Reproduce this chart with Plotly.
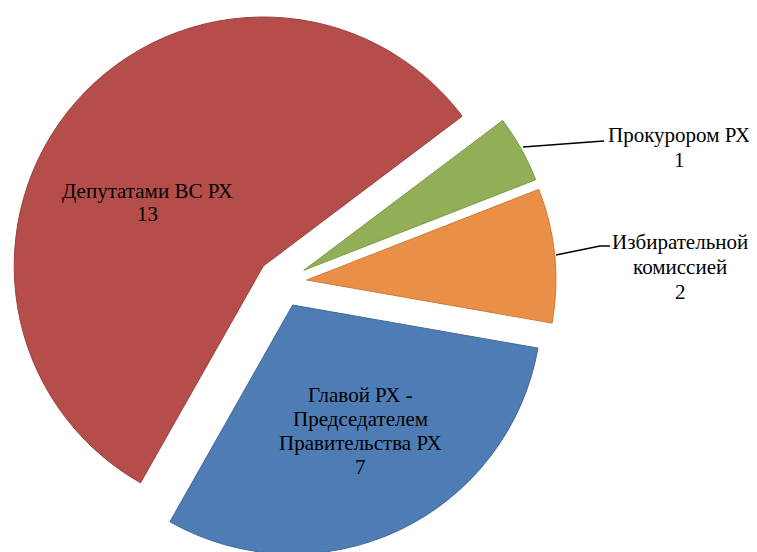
import plotly.graph_objects as go

# Data
labels = ["Прокурором РХ", "Избирательной комиссией",
          "Главой РХ - Председателем Правительства РХ", "Депутатами ВС РХ"]
values = [1, 2, 7, 13]
label_lines = [
    ["Прокурором РХ", "1"],
    ["Избирательной", "комиссией", "2"],
    ["Главой РХ -", "Председателем", "Правительства РХ", "7"],
    ["Депутатами ВС РХ", "13"],
]
colors = ["#91AF56", "#EA8F47", "#4E7CB5", "#B54D4A"]
edge_colors = ["#7E9A48", "#CF7B39", "#44699B", "#9C403D"]

W, H = 757, 552
OFF = 8  # page body margin offset

def px(x):
    return (x - OFF) / W

def py(y):
    return 1 - (y - OFF) / H

fig = go.Figure()
fig.add_trace(go.Pie(
    labels=labels,
    values=values,
    sort=False,
    direction="clockwise",
    rotation=53,
    pull=[0.1] * 4,
    marker=dict(colors=colors, line=dict(color=edge_colors, width=1)),
    textinfo="none",
    showlegend=False,
    domain=dict(x=[0, 548 / W], y=[3 / H, 1]),
))

SERIF = "Liberation Serif"

# label anchor: (center x, first line center y, line spacing)
label_pos = [
    (679, 135, 25),
    (680, 242, 25),
    (360, 395, 24),
    (147, 191, 23),
]
for (x, y0, dy), lines in zip(label_pos, label_lines):
    for k, t in enumerate(lines):
        fig.add_annotation(x=px(x), y=py(y0 + k * dy), xref="paper", yref="paper",
                           text=t, showarrow=False,
                           font=dict(family=SERIF, size=21, color="black"),
                           align="center", xanchor="center", yanchor="middle")

leaders = [
    [(523, 147), (590, 142), (604, 141)],
    [(556, 255), (600, 246), (610, 246)],
]
for pts in leaders:
    path = "M " + " L ".join(f"{px(a):.5f},{py(b):.5f}" for a, b in pts)
    fig.add_shape(type="path", path=path, xref="paper", yref="paper",
                  line=dict(color="#000000", width=1.5))

fig.update_layout(
    width=W, height=H,
    margin=dict(l=0, r=0, t=0, b=0),
    font=dict(family=SERIF, size=21, color="black"),
    paper_bgcolor="white",
    plot_bgcolor="white",
)

fig.write_html("out.html")
